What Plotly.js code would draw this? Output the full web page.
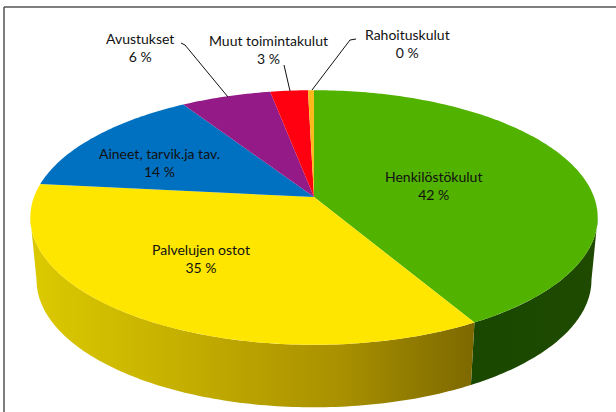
<!DOCTYPE html>
<html><head><meta charset="utf-8">
<script src="https://cdn.plot.ly/plotly-3.0.1.min.js"></script>
<style>html,body{margin:0;padding:0;background:#fff}</style></head>
<body><div id="chart" style="width:616px;height:412px"></div>
<script>
const categories = ['Henkilöstökulut','Palvelujen ostot','Aineet, tarvik.ja tav.','Avustukset','Muut toimintakulut','Rahoituskulut'];
const values = [41.8, 34.9, 14.4, 6.0, 2.5, 0.4];
const shownPercent = ['42 %','35 %','14 %','6 %','3 %','0 %'];
const colors = ['#52b200','#ffe600','#0070c0','#931a87','#ff0011','#fbb91c'];

const cx=314, cy=197, rx=280, ry=124, k=0.161;
function topPt(a){const u=Math.sin(a), v=Math.cos(a), d=1+k*v; return [cx+rx*u/d, cy-ry*v/d];}
function botPt(a){const p=topPt(a); return [cx+(p[0]-cx)*0.978, p[1]+62.5];}
const total=values.reduce((s,v)=>s+v,0);
let cum=0; const edges=[0];
values.forEach(v=>{cum+=v; edges.push(cum/total*2*Math.PI);});
function arc(f,a,b){const n=Math.max(3,Math.ceil(Math.abs(b-a)*60)),o=[];for(let i=0;i<=n;i++)o.push(f(a+(b-a)*i/n));return o;}

const traces=[];
function wall(a,b,grad){
  const pts=arc(botPt,a,b).concat(arc(topPt,b,a));
  traces.push({type:'scatter',mode:'none',x:pts.map(p=>p[0]),y:pts.map(p=>p[1]),fill:'toself',hoverinfo:'skip',fillgradient:grad});
}
const split=edges[1];
const rightExtreme=Math.acos(-k), leftExtreme=2*Math.PI-rightExtreme;
wall(rightExtreme,split,{type:'horizontal',start:480,stop:600,colorscale:[[0,'#1a4800'],[1,'#1f4a00']]});
wall(split,leftExtreme,{type:'horizontal',start:30,stop:476,colorscale:[[0,'#dcca00'],[0.35,'#c4ae00'],[0.7,'#a89000'],[1,'#7c6800']]});
values.forEach((v,i)=>{
  const pts=[[cx,cy]].concat(arc(topPt,edges[i],edges[i+1]));pts.push([cx,cy]);
  traces.push({type:'scatter',mode:'none',name:categories[i],x:pts.map(p=>p[0]),y:pts.map(p=>p[1]),fill:'toself',fillcolor:colors[i],hoverinfo:'name'});
});

const labelPos=[[433,185],[201,258],[159,162],[140,47],[268,49],[407,43]];
const annotations=categories.map((c,i)=>({x:labelPos[i][0],y:labelPos[i][1],xref:'x',yref:'y',text:c+'<br>'+shownPercent[i],showarrow:false,align:'center',
  font:{family:'Lato, Carlito, sans-serif',size:14,color:'#111'}}));
const leaderLines=[[[181,43],[185,45],[228,97]],[[284,65],[290,91]],[[356,39],[350,40],[312,90]]];
const shapes=[
  {type:'line',x0:4,y0:7,x1:616,y1:7,line:{color:'#555',width:1.5}},
  {type:'line',x0:4,y0:7,x1:4,y1:412,line:{color:'#555',width:1.5}}];
leaderLines.forEach(l=>{for(let i=0;i<l.length-1;i++)shapes.push({type:'line',x0:l[i][0],y0:l[i][1],x1:l[i+1][0],y1:l[i+1][1],line:{color:'#111',width:1}});});

Plotly.newPlot('chart',traces,{width:616,height:412,margin:{l:0,r:0,t:0,b:0},showlegend:false,paper_bgcolor:'#fff',plot_bgcolor:'#fff',
  xaxis:{range:[0,616],visible:false,fixedrange:true},yaxis:{range:[412,0],visible:false,fixedrange:true},annotations,shapes},{displayModeBar:false,staticPlot:true});
</script></body></html>
